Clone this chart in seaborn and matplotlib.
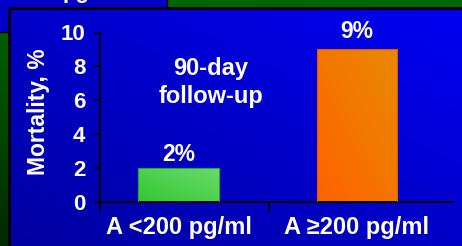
import numpy as np
import pandas as pd
import matplotlib
matplotlib.use("Agg")
import matplotlib.pyplot as plt
from matplotlib.patches import Rectangle
from matplotlib.colors import to_rgb
import seaborn as sns

# ---- data ----
groups = ["A <200 pg/ml", "A \u2265200 pg/ml"]
mortality = [2, 9]
value_labels = ["2%", "9%"]
y_ticks = [0, 2, 4, 6, 8, 10]
y_label = "Mortality, %"
note = "90-day\nfollow-up"

sns.set_style("ticks")
plt.rcParams["font.family"] = ["Liberation Sans", "DejaVu Sans"]
plt.rcParams["font.weight"] = "bold"

W, H = 462, 246
fig = plt.figure(figsize=(W / 100, H / 100), dpi=100)


def grad(c_lo, c_hi, nx=120, ny=60, diag=True):
    a = np.array(to_rgb(c_lo)); b = np.array(to_rgb(c_hi))
    xs = np.linspace(0, 1, nx)[None, :]
    ys = np.linspace(0, 1, ny)[:, None]  # row 0 = top
    if diag:
        t = (xs + (1 - ys)) / 2
    else:
        t = (1 - ys) * np.ones_like(xs)
    return a[None, None, :] * (1 - t[..., None]) + b[None, None, :] * t[..., None]


# ---- slide background ----
bg = fig.add_axes([0, 0, 1, 1], zorder=0)
bg.set_xlim(0, W); bg.set_ylim(H, 0); bg.axis("off")
bg.imshow(grad("#002800", "#006600", diag=False), extent=(0, W, H, 0), aspect="auto",
          zorder=0)
bg.add_patch(Rectangle((-3, -3), 170, 35, facecolor="#0000C8", edgecolor="black",
                       lw=1, zorder=1))
bg.text(76, 3, "pg", color="white", fontsize=16, fontweight="bold", ha="center",
        va="bottom", zorder=2)
bg.imshow(grad("#0000A0", "#0000F2"), extent=(9, W, H, 8), aspect="auto", zorder=3)
bg.add_patch(Rectangle((9, 8), W, H, facecolor="none", edgecolor="black", lw=2,
                       zorder=4))
bg.set_xlim(0, W); bg.set_ylim(H, 0)

# ---- chart ----
ax = fig.add_axes([100 / W, (H - 202) / H, 353 / W, 169.5 / H], zorder=2)
ax.patch.set_alpha(0)
df = pd.DataFrame({"group": groups, "mortality": mortality})
sns.barplot(data=df, x="group", y="mortality", hue="group",
            palette=["#44CC44", "#F77700"], legend=False, width=0.45, ax=ax,
            edgecolor="none")

bar_grads = [("#33C633", "#6ADB6A", "#2AA82A"), ("#FF6200", "#E98A00", "#D85A10")]
for p, (lo, hi, ec) in zip(ax.patches, bar_grads):
    x0, y0 = p.get_x(), p.get_y()
    w, h = p.get_width(), p.get_height()
    im = ax.imshow(grad(lo, hi), extent=(x0, x0 + w, y0, y0 + h), aspect="auto",
                   origin="upper", zorder=2)
    im.set_clip_path(p)
    p.set_edgecolor(ec); p.set_linewidth(0.8); p.set_zorder(3); p.set_facecolor("none")

offsets = [1.5, 4.5]
for p, lab, off in zip(ax.patches, value_labels, offsets):
    ax.annotate(lab, (p.get_x() + p.get_width() / 2, p.get_height()),
                xytext=(0, off), textcoords="offset points", ha="center", va="bottom",
                color="white", fontsize=16.5, fontweight="bold")

ax.text(0.18, 7.05, note, color="white", fontsize=17, fontweight="bold",
        ha="center", va="center", linespacing=1.25)

ax.set_xlim(-0.44, 1.54)
ax.set_ylim(0, 10)
ax.set_yticks(y_ticks)
ax.set_xticks([0, 1])
ax.set_xticklabels(groups)
ax.set_xticks([-0.44, 0.51], minor=True)
ax.tick_params(axis="x", which="major", length=0, pad=10, labelsize=17,
               labelcolor="white")
ax.tick_params(axis="x", which="minor", length=7.5, width=1.2, color="black",
               direction="out")
ax.tick_params(axis="y", length=4.5, width=1.2, color="black", direction="out",
               pad=6, labelsize=16, labelcolor="white")
for t in ax.get_xticklabels() + ax.get_yticklabels():
    t.set_fontweight("bold")
ax.set_xlabel("")
ax.set_ylabel(y_label, color="white", fontsize=16.5, fontweight="bold")
ax.yaxis.set_label_coords(-0.143, 0.53)
for s in ["top", "right"]:
    ax.spines[s].set_visible(False)
for s in ["left", "bottom"]:
    ax.spines[s].set_color("black"); ax.spines[s].set_linewidth(1.4)

fig.savefig("out.png", dpi=100)
